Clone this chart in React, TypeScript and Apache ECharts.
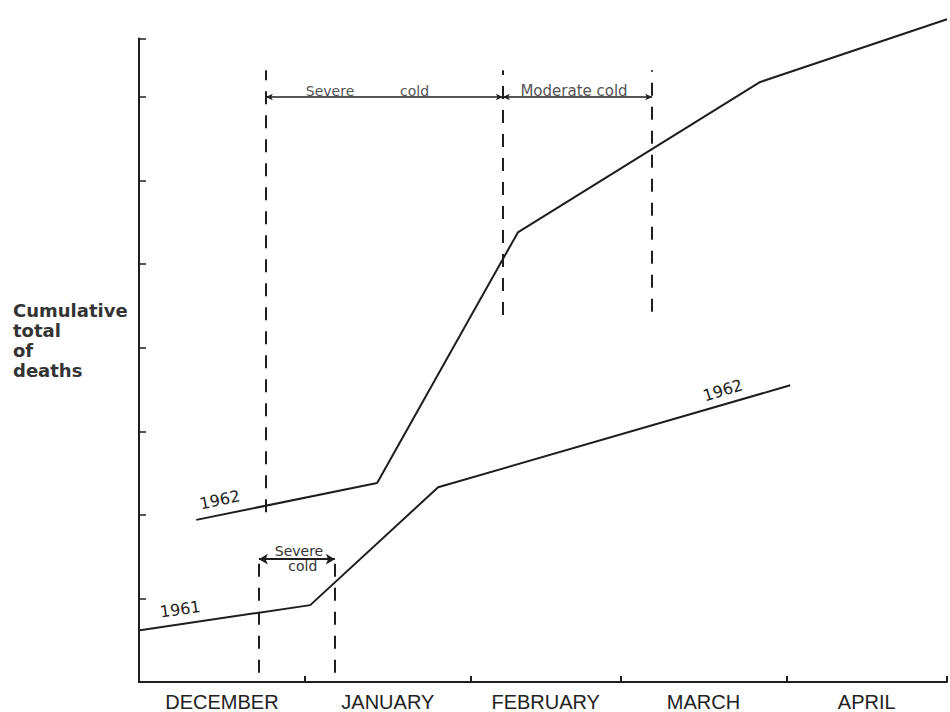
import React, { useEffect, useRef } from "react";
import * as echarts from "echarts";

// x: days since 1 December; y: cumulative deaths in axis-tick units (unlabelled axis)
const months = ["DECEMBER", "JANUARY", "FEBRUARY", "MARCH", "APRIL"];
const monthDays = [31, 31, 28, 31, 30];
const yTicks = [1, 2, 3, 4, 5, 6, 7, 7.7];
const Y_MAX = 7.7;

const winter1961_62: [number, number][] = [
  [0.2, 0.62],
  [32.0, 0.92],
  [55.9, 2.33],
  [121.7, 3.55],
];
const winter1962_63: [number, number][] = [
  [10.7, 1.94],
  [44.5, 2.38],
  [70.8, 5.38],
  [116.1, 7.18],
  [151, 7.93],
];

// cold-spell boundaries: [day, bottom, top]
const coldBounds1961_62: [number, number, number][] = [
  [22.4, 0.11, 1.5],
  [36.6, 0.11, 1.5],
];
const coldBounds1962_63: [number, number, number][] = [
  [23.7, 2.03, 7.32],
  [68.0, 4.39, 7.32],
  [95.9, 4.43, 7.32],
];
// spell arrows: [fromDay, toDay, level]
const spellArrowsTop: [number, number, number][] = [
  [23.7, 68.0, 7.0],
  [68.0, 95.9, 7.0],
];
const spellArrowsBottom: [number, number, number][] = [[22.4, 36.6, 1.47]];

// text labels: [text, day, level, rotation, size]
const yearLabels: [string, number, number, number][] = [
  ["1961", 7.7, 0.87, 8],
  ["1962", 15.1, 2.18, 12],
  ["1962", 109.1, 3.49, 17],
  ["1963", 137.2, 7.8, 20],
];
const spellLabelsTop: [string, number, number, number][] = [
  ["Severe", 35.7, 7.07, 14],
  ["cold", 51.5, 7.07, 14],
  ["Moderate cold", 81.3, 7.07, 15],
];
const spellLabelsBottom: [string, number, number, number][] = [
  ["Severe", 29.9, 1.57, 14],
  ["cold", 30.6, 1.39, 14],
];

const INK = "#1e1e1e";

export default function App() {
  const ref = useRef<HTMLDivElement>(null);
  useEffect(() => {
    if (!ref.current) return;
    const chart = echarts.init(ref.current, undefined, { renderer: "svg" });
    const monthStarts: number[] = [0];
    monthDays.forEach((d, i) => monthStarts.push(monthStarts[i] + d));
    const monthMids = monthDays.map((d, i) => monthStarts[i] + d / 2);
    const xMax = monthStarts[monthStarts.length - 1];

    const lineSeries = (name: string, data: [number, number][]) => ({
      name,
      type: "line",
      data,
      clip: false,
      symbol: "none",
      lineStyle: { color: INK, width: 2 },
    });

    const textPoint = (t: string, d: number, v: number, rot: number, size: number, color: string) => ({
      coord: [d, v],
      name: t,
      label: {
        show: true,
        position: "inside",
        formatter: t,
        rotate: rot,
        fontSize: size,
        color,
        fontFamily: "DejaVu Sans",
      },
    });

    const option: any = {
      animation: false,
      backgroundColor: "#ffffff",
      grid: { left: 139, right: 3, top: 38.5, bottom: 30 },
      xAxis: {
        type: "value",
        min: 0,
        max: xMax,
        axisLine: { show: true, lineStyle: { color: INK, width: 2 } },
        axisTick: {
          show: true,
          inside: true,
          length: 6,
          customValues: monthStarts.slice(1),
          lineStyle: { color: INK, width: 2 },
        },
        axisLabel: {
          show: true,
          customValues: monthMids,
          margin: 10,
          fontSize: 20,
          fontFamily: "Liberation Sans",
          color: "#222",
          formatter: (v: number) => {
            let best = 0;
            monthMids.forEach((m, i) => {
              if (Math.abs(m - v) < Math.abs(monthMids[best] - v)) best = i;
            });
            return months[best];
          },
        },
        splitLine: { show: false },
      },
      yAxis: {
        type: "value",
        min: 0,
        max: Y_MAX,
        axisLine: { show: true, lineStyle: { color: INK, width: 2 } },
        axisTick: {
          show: true,
          inside: true,
          length: 7,
          customValues: yTicks,
          lineStyle: { color: INK, width: 1.5 },
        },
        axisLabel: { show: false },
        splitLine: { show: false },
      },
      graphic: [
        {
          type: "text",
          left: 13,
          top: 300,
          style: {
            text: "Cumulative\ntotal\nof\ndeaths",
            font: "bold 18px 'DejaVu Sans'",
            fill: "#333",
            lineHeight: 20,
          },
        },
      ],
      series: [
        lineSeries("1961-62", winter1961_62),
        lineSeries("1962-63", winter1962_63),
        {
          name: "cold spells",
          type: "line",
          data: [],
          clip: false,
          markLine: {
            silent: true,
            symbol: ["none", "none"],
            label: { show: false },
            lineStyle: { color: INK, width: 2, type: [13, 11] },
            data: [...coldBounds1961_62, ...coldBounds1962_63].map(([d, b, t]) => [
              { coord: [d, b] },
              { coord: [d, t] },
            ]),
          },
        },
        {
          name: "spell arrows top",
          type: "line",
          data: [],
          clip: false,
          markLine: {
            silent: true,
            symbol: ["arrow", "arrow"],
            symbolSize: [5, 7],
            label: { show: false },
            lineStyle: { color: INK, width: 1.5, type: "solid" },
            data: spellArrowsTop.map(([a, b, v]) => [{ coord: [a, v] }, { coord: [b, v] }]),
          },
        },
        {
          name: "spell arrows bottom",
          type: "line",
          data: [],
          clip: false,
          markLine: {
            silent: true,
            symbol: ["arrow", "arrow"],
            symbolSize: [8, 9],
            label: { show: false },
            lineStyle: { color: INK, width: 2, type: "solid" },
            data: spellArrowsBottom.map(([a, b, v]) => [{ coord: [a, v] }, { coord: [b, v] }]),
          },
        },
        {
          name: "labels",
          type: "line",
          data: [],
          clip: false,
          markPoint: {
            silent: true,
            symbol: "rect",
            symbolSize: 0,
            data: [
              ...yearLabels.map(([t, d, v, r]) => textPoint(t, d, v, r, 16, "#222")),
              ...spellLabelsTop.map(([t, d, v, s]) => textPoint(t, d, v, 0, s, "#555")),
              ...spellLabelsBottom.map(([t, d, v, s]) => textPoint(t, d, v, 0, s, "#333")),
            ],
          },
        },
      ],
    };
    chart.setOption(option);
    return () => chart.dispose();
  }, []);
  return (
    <div
      ref={ref}
      style={{ position: "fixed", left: 0, top: 0, width: 950, height: 712, background: "#fff" }}
    />
  );
}
